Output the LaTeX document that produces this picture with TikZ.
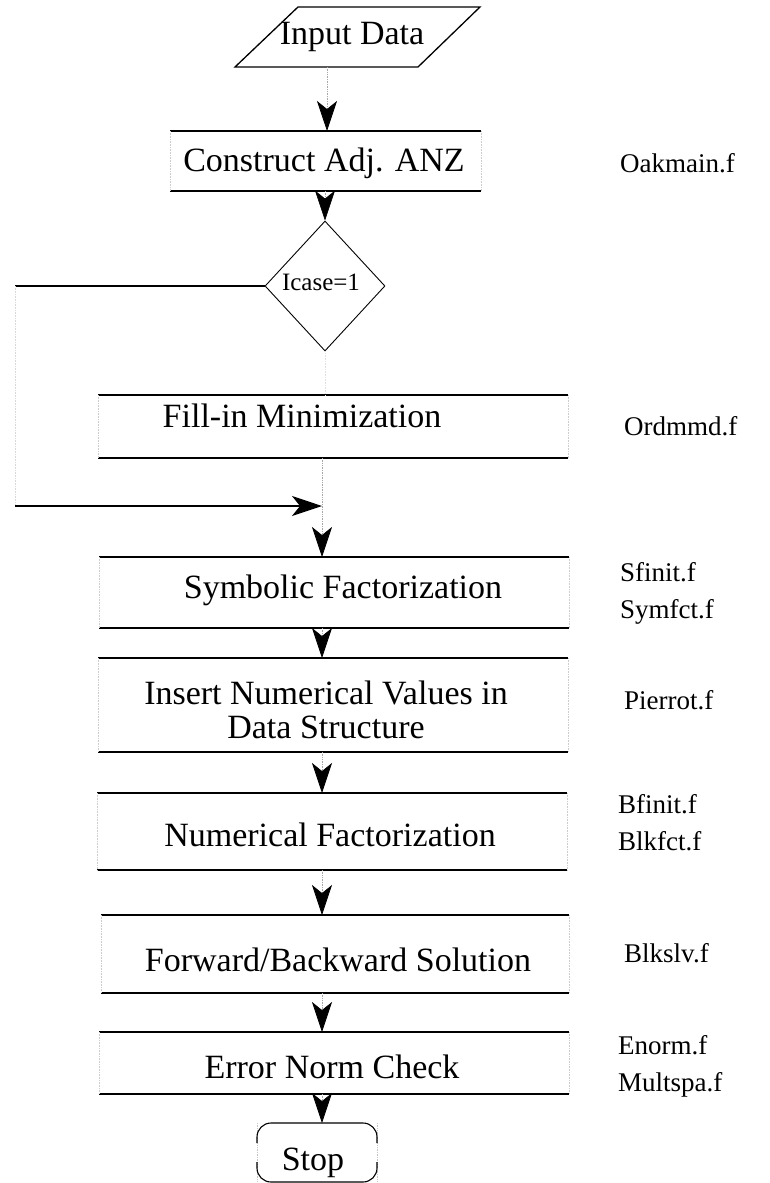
\documentclass[tikz,border=0pt]{standalone}
\usepackage{fontspec}
\setmainfont{Liberation Serif}
\usetikzlibrary{arrows.meta,shapes.geometric}
\begin{document}
\begin{tikzpicture}[x=1pt,y=-1pt,
  hline/.style={line width=1.8pt},
  sideline/.style={gray!40, densely dotted, line width=0.6pt},
  conn/.style={gray!70, densely dotted, line width=0.7pt},
  tip/.style={-{Stealth[length=30pt,width=20pt,inset=8pt,color=black,fill=black]}},
  big/.style={font=\fontsize{34}{34}\selectfont, inner sep=0pt},
  lab/.style={font=\fontsize{27}{37}\selectfont, anchor=west, align=left, inner sep=0pt},
  boxarea/.style={draw=none, inner sep=0pt, outer sep=0pt, rectangle}]
\useasboundingbox (0,0) rectangle (769,1183);

% Input Data parallelogram
\coordinate (pbl) at (235,67);
\coordinate (pbr) at (418,67);
\coordinate (ptr) at (480,7);
\coordinate (ptl) at (298,7);
\draw[line width=1.3pt] (pbl) -- (pbr) -- (ptr) -- (ptl) -- cycle;
\node[big] (input) at (352,37) {Input Data};
\coordinate (inbot) at (327,67);

% boxes
\node[boxarea, minimum width=311pt, minimum height=60pt] (cons) at (325.5,161) {};
\node[boxarea, minimum width=470pt, minimum height=63pt] (fill) at (333,426.5) {};
\node[boxarea, minimum width=470pt, minimum height=71pt] (symb) at (334,592.5) {};
\node[boxarea, minimum width=470pt, minimum height=94pt] (ins) at (333,705) {};
\node[boxarea, minimum width=470pt, minimum height=77pt] (num) at (332,831.5) {};
\node[boxarea, minimum width=468pt, minimum height=78pt] (fwd) at (335,954) {};
\node[boxarea, minimum width=470pt, minimum height=62pt] (err) at (334,1063) {};
\foreach \n in {cons,fill,symb,ins,num,fwd,err}{
  \draw[hline] (\n.north west) -- (\n.north east);
  \draw[hline] (\n.south west) -- (\n.south east);
  \draw[sideline] (\n.north west) -- (\n.south west);
  \draw[sideline] (\n.north east) -- (\n.south east);
}

% box texts
\node[big] (tcons) at (324,163) {Construct Adj. ANZ};
\node[big] (tfill) at (302,416) {Fill-in Minimization};
\node[big] (tsymb) at (343,590) {Symbolic Factorization};
\node[big, align=center] (tins) at (326,710) {Insert Numerical Values in\\Data Structure};
\node[big] (tnum) at (330,835) {Numerical Factorization};
\node[big] (tfwd) at (338,960) {Forward/Backward Solution};
\node[big] (terr) at (332,1067) {Error Norm Check};

% decision
\node[diamond, draw, line width=0.9pt, minimum width=120pt, minimum height=130pt, inner sep=0pt] (dia) at (325,286) {};
\node[font=\fontsize{25}{28}\selectfont, inner sep=0pt] (tdia) at (321,282) {Icase=1};

% stop
\node[boxarea, minimum width=120pt, minimum height=59pt] (stop) at (317,1152.5) {};
\draw[gray!45, line width=0.7pt, densely dotted] (stop.north west) -- (stop.south west);
\draw[gray!45, line width=0.7pt, densely dotted] (stop.north east) -- (stop.south east);
\draw[line width=1.1pt, rounded corners=14pt] ([yshift=-20pt]stop.north west) -- (stop.north west) -- (stop.north east) -- ([yshift=-20pt]stop.north east);
\draw[line width=1.1pt, rounded corners=14pt] ([yshift=20pt]stop.south west) -- (stop.south west) -- (stop.south east) -- ([yshift=20pt]stop.south east);
\node[big] (tstop) at (313,1163) {Stop};

% right labels
\node[lab] (l1) at (620,163) {Oakmain.f};
\node[lab] (l2) at (624,426) {Ordmmd.f};
\node[lab] (l3) at (620,593) {Sfinit.f\\Symfct.f};
\node[lab] (l4) at (624,700) {Pierrot.f};
\node[lab] (l5) at (618,823) {Bfinit.f\\Blkfct.f};
\node[lab] (l6) at (624,953) {Blkslv.f};
\node[lab] (l7) at (618,1066) {Enorm.f\\Multspa.f};

% connectors
\draw[conn, tip] (inbot) -- (cons.north -| inbot);
\draw[conn, tip] (cons.south -| dia.north) -- (dia.north);
\draw[gray!25, densely dotted, line width=0.6pt] (dia.south) -- (fill.north -| dia.south);

\coordinate (dl) at (15,286);
\coordinate (dl2) at (15,506);
\coordinate (col) at (322,0);
\coordinate (merge) at (322,506);
\draw[line width=1.2pt] (dia.west) -- (dl);
\draw[gray!30, densely dotted, line width=0.6pt] (dl) -- (dl2);
\draw[line width=1.2pt, tip] (dl2) -- (merge);

\draw[conn, tip] (fill.south -| col) -- (symb.north -| col);
\draw[conn, tip] (symb.south -| col) -- (ins.north -| col);
\draw[conn, tip] (ins.south -| col) -- (num.north -| col);
\draw[conn, tip] (num.south -| col) -- (fwd.north -| col);
\draw[conn, tip] (fwd.south -| col) -- (err.north -| col);
\draw[conn, tip] (err.south -| col) -- (stop.north -| col);
\end{tikzpicture}
\end{document}
